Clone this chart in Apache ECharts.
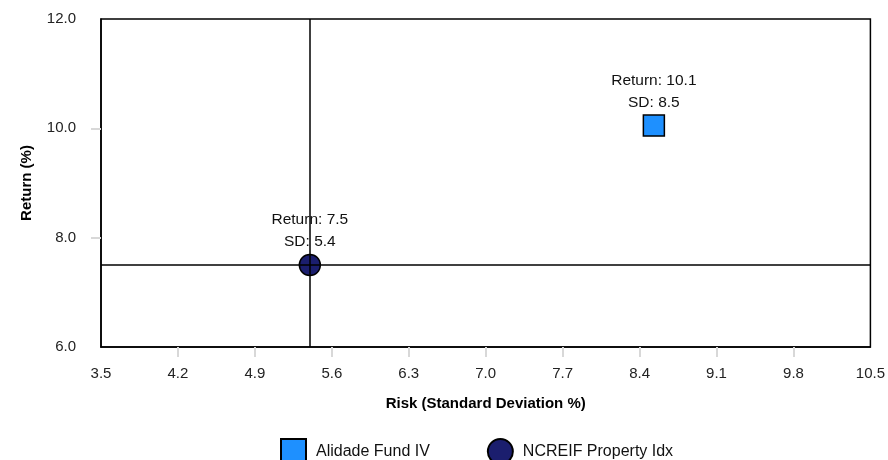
<!DOCTYPE html>
<html>
<head>
<meta charset="utf-8">
<script src="https://cdn.jsdelivr.net/npm/echarts@6/dist/echarts.min.js"></script>
<style>html,body{margin:0;padding:0;background:#fff}#c{width:888px;height:460px}</style>
</head>
<body>
<div id="c"></div>
<script>
const seriesNames = ['Alidade Fund IV', 'NCREIF Property Idx'];
const riskVals = [8.53, 5.4];
const returnVals = [10.05, 7.5];
const xTicks = [3.5, 4.2, 4.9, 5.6, 6.3, 7.0, 7.7, 8.4, 9.1, 9.8, 10.5];
const yTicks = [6.0, 8.0, 10.0, 12.0];
const benchmarkIndex = 1;

const colors = ['#1E90FF', '#1B1E6E'];
const symbols = ['rect', 'circle'];
const FONT = '"Liberation Sans", Arial, sans-serif';

const chart = echarts.init(document.getElementById('c'), null, {renderer: 'canvas'});

const series = seriesNames.map((name, i) => {
  const s = {
    name: name,
    type: 'scatter',
    symbol: symbols[i],
    symbolSize: 21,
    itemStyle: {color: colors[i], borderColor: '#000', borderWidth: 1.5, opacity: 1},
    label: {
      show: true,
      position: 'top',
      distance: 1,
      fontFamily: FONT,
      fontSize: 15.5,
      color: '#111',
      lineHeight: 22,
      align: 'center',
      formatter: (p) => 'Return: ' + p.value[1].toFixed(1) + '\nSD: ' + p.value[0].toFixed(1)
    },
    data: [[riskVals[i], returnVals[i]]],
    z: 3
  };
  if (i === benchmarkIndex) {
    s.markLine = {
      silent: true,
      symbol: 'none',
      z: 10,
      label: {show: false},
      lineStyle: {color: '#000', width: 1.5, type: 'solid'},
      data: [{xAxis: riskVals[i]}, {yAxis: returnVals[i]}]
    };
  }
  return s;
});

chart.setOption({
  animation: false,
  backgroundColor: '#fff',
  textStyle: {fontFamily: FONT},
  grid: {left: 101, right: 15, top: 19, bottom: 113, show: true, borderColor: '#000', borderWidth: 1.5, backgroundColor: 'transparent'},
  legend: {
    data: seriesNames.map((n, i) => ({name: n, icon: symbols[i] === 'rect' ? 'rect' : 'circle'})),
    top: 438,
    left: 280,
    padding: 0,
    itemWidth: 25,
    itemHeight: 25,
    itemGap: 57,
    textStyle: {fontFamily: FONT, fontSize: 16, color: '#111', padding: [0, 0, 0, 5]}
  },
  xAxis: {
    type: 'value',
    min: xTicks[0],
    max: xTicks[xTicks.length - 1],
    interval: 0.7,
    name: 'Risk (Standard Deviation %)',
    nameLocation: 'middle',
    nameGap: 49,
    nameTextStyle: {fontFamily: FONT, fontSize: 15, fontWeight: 'bold', color: '#000'},
    axisLine: {show: true, lineStyle: {color: '#000', width: 1.5}},
    axisTick: {show: true, length: 10, lineStyle: {color: '#d8d8d8', width: 2}, customValues: xTicks.slice(1, -1)},
    axisLabel: {margin: 19, fontFamily: FONT, fontSize: 15, color: '#222', customValues: xTicks, formatter: v => v.toFixed(1)},
    splitLine: {show: false}
  },
  yAxis: {
    type: 'value',
    min: yTicks[0],
    max: yTicks[yTicks.length - 1],
    interval: 2,
    name: 'Return (%)',
    nameLocation: 'middle',
    nameGap: 67,
    nameTextStyle: {fontFamily: FONT, fontSize: 15, fontWeight: 'bold', color: '#000'},
    axisLine: {show: true, lineStyle: {color: '#000', width: 1.5}},
    axisTick: {show: true, length: 10, lineStyle: {color: '#d8d8d8', width: 2}, customValues: yTicks.slice(1, -1)},
    axisLabel: {margin: 25, fontFamily: FONT, fontSize: 15, color: '#222', customValues: yTicks, formatter: v => v.toFixed(1)},
    splitLine: {show: false}
  },
  series: series
});
</script>
</body>
</html>
